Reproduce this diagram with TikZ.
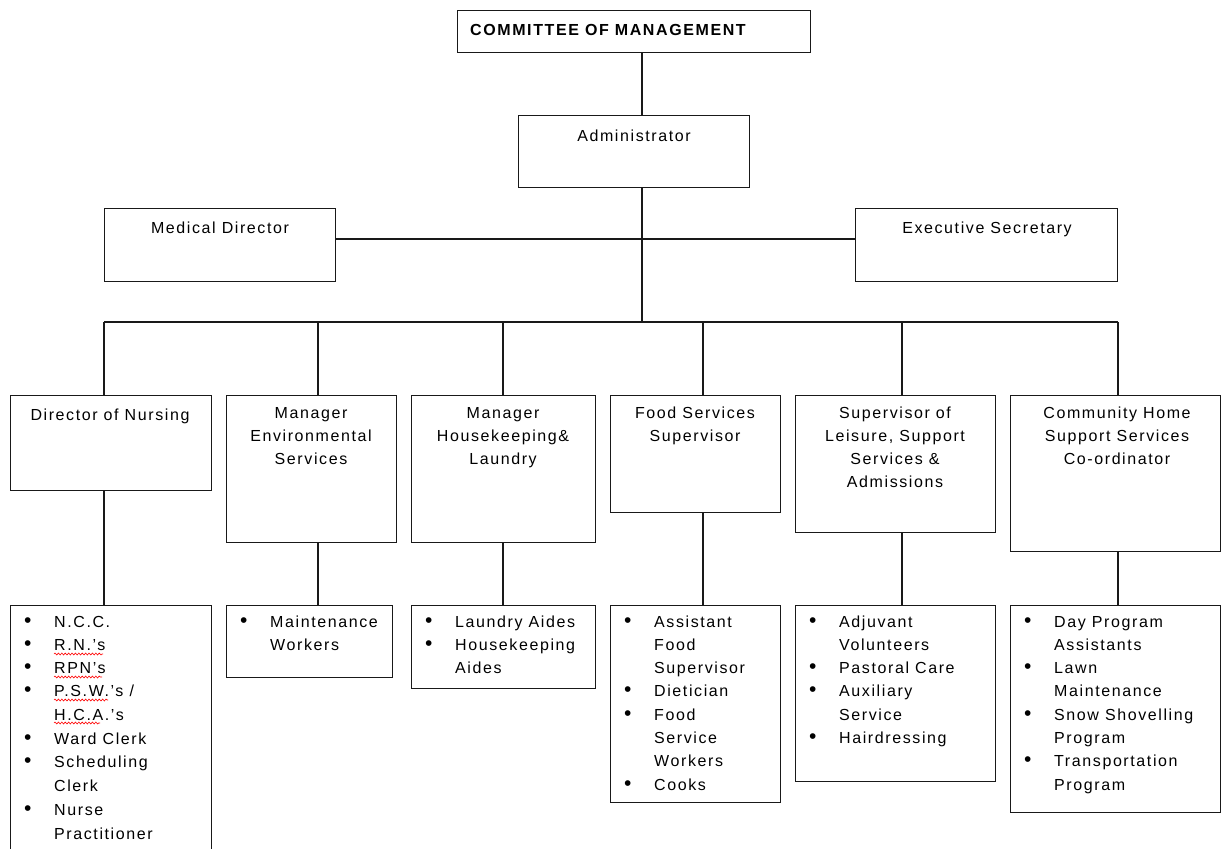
\documentclass[tikz,border=0pt]{standalone}
\usepackage{fontspec}
\setmainfont{Liberation Sans}[LetterSpace=10]
\usetikzlibrary{decorations.pathmorphing}
\newcommand\blt{\makebox[30pt][l]{{\fontsize{21}{23.3}\selectfont\textbullet}}}
\newcommand\cnt{\hspace*{30pt}}
\begin{document}
\begin{tikzpicture}[x=1pt,y=-1pt,
  bx/.style={draw=black!90, line width=1.4pt, rectangle, inner sep=0pt, anchor=north west},
  ln/.style={draw=black!90, line width=1.4pt},
  tx/.style={inner sep=0pt, anchor=base, font=\fontsize{16}{23.3}\selectfont},
  lst/.style={inner sep=0pt, anchor=base west, font=\fontsize{16}{23.3}\selectfont},
  squig/.style={draw=red, line width=0.6pt, decorate, decoration={snake, amplitude=1pt, segment length=3.4pt}}]
\useasboundingbox (0,0) rectangle (1222,848);
\clip (0,0) rectangle (1222,848);
% boxes
\node[bx, minimum width=353pt, minimum height=42pt] (com) at (457,10) {};
\node[bx, minimum width=231pt, minimum height=72pt] (adm) at (518,115) {};
\node[bx, minimum width=231pt, minimum height=73pt] (med) at (104,208) {};
\node[bx, minimum width=262pt, minimum height=73pt] (exe) at (855,208) {};
\node[bx, minimum width=201pt, minimum height=95pt] (dir) at (10,395) {};
\node[bx, minimum width=170pt, minimum height=147pt] (env) at (226,395) {};
\node[bx, minimum width=184pt, minimum height=147pt] (hk) at (411,395) {};
\node[bx, minimum width=170pt, minimum height=117pt] (food) at (610,395) {};
\node[bx, minimum width=200pt, minimum height=137pt] (sup) at (795,395) {};
\node[bx, minimum width=210pt, minimum height=156pt] (chs) at (1010,395) {};
\node[bx, minimum width=201pt, minimum height=270pt] (l1) at (10,605) {};
\node[bx, minimum width=166pt, minimum height=72pt] (l2) at (226,605) {};
\node[bx, minimum width=184pt, minimum height=83pt] (l3) at (411,605) {};
\node[bx, minimum width=170pt, minimum height=197pt] (l4) at (610,605) {};
\node[bx, minimum width=200pt, minimum height=176pt] (l5) at (795,605) {};
\node[bx, minimum width=210pt, minimum height=207pt] (l6) at (1010,605) {};
% connector coordinates
\coordinate (tk) at (642,322);
\coordinate (h1) at (0,239);
\coordinate (barL) at (104,322);
\coordinate (barR) at (1118,322);
\coordinate (d1) at (104,322);
\coordinate (d2) at (318,322);
\coordinate (d3) at (503,322);
\coordinate (d4) at (703,322);
\coordinate (d5) at (902,322);
\coordinate (d6) at (1118,322);
% connectors
\draw[ln] (com.south -| tk) -- (adm.north -| tk);
\draw[ln] (adm.south -| tk) -- (tk);
\draw[ln] (med.east |- h1) -- (exe.west |- h1);
\draw[ln] (barL) -- (barR);
\draw[ln] (d1) -- (dir.north -| d1);
\draw[ln] (d2) -- (env.north -| d2);
\draw[ln] (d3) -- (hk.north -| d3);
\draw[ln] (d4) -- (food.north -| d4);
\draw[ln] (d5) -- (sup.north -| d5);
\draw[ln] (d6) -- (chs.north -| d6);
\draw[ln] (dir.south -| d1) -- (l1.north -| d1);
\draw[ln] (env.south -| d2) -- (l2.north -| d2);
\draw[ln] (hk.south -| d3) -- (l3.north -| d3);
\draw[ln] (food.south -| d4) -- (l4.north -| d4);
\draw[ln] (sup.south -| d5) -- (l5.north -| d5);
\draw[ln] (chs.south -| d6) -- (l6.north -| d6);
% titles
\node[tx, anchor=base west, font=\fontsize{16}{23.3}\selectfont\bfseries] (comt) at (470,36) {COMMITTEE OF MANAGEMENT};
\node[tx] (admt) at (634,141) {Administrator};
\node[tx] (medt) at (220,233) {Medical Director};
\node[tx] (exet) at (987,233) {Executive Secretary};
\node[tx] (dirt) at (110,420) {Director of Nursing};
\node[tx] (envt) at (311,418) {\parbox[t]{165pt}{\centering Manager\\Environmental\\Services}};
\node[tx] (hkt) at (503,418) {\parbox[t]{180pt}{\centering Manager\\Housekeeping\&\\Laundry}};
\node[tx] (foodt) at (695,418) {\parbox[t]{165pt}{\centering Food Services\\Supervisor}};
\node[tx] (supt) at (895,418) {\parbox[t]{195pt}{\centering Supervisor of\\Leisure, Support\\Services \&\\Admissions}};
\node[tx] (chst) at (1117,418) {\parbox[t]{205pt}{\centering Community Home\\Support Services\\Co-ordinator}};
% lists
\node[lst] (l1t) at (24,627) {\parbox[t]{190pt}{\raggedright
 \blt N.C.C.\\ \blt R.N.'s\\ \blt RPN's\\ \blt P.S.W.'s /\\ \cnt H.C.A.'s\\[1pt] \blt Ward Clerk\\ \blt Scheduling\\ \cnt Clerk\\[1.5pt] \blt Nurse\\ \cnt Practitioner}};
\node[lst] (l2t) at (240,627) {\parbox[t]{160pt}{\raggedright
 \blt Maintenance\\ \cnt Workers}};
\node[lst] (l3t) at (425,627) {\parbox[t]{175pt}{\raggedright
 \blt Laundry Aides\\ \blt Housekeeping\\ \cnt Aides}};
\node[lst] (l4t) at (624,627) {\parbox[t]{160pt}{\raggedright
 \blt Assistant\\ \cnt Food\\ \cnt Supervisor\\ \blt Dietician\\ \blt Food\\ \cnt Service\\ \cnt Workers\\ \blt Cooks}};
\node[lst] (l5t) at (809,627) {\parbox[t]{190pt}{\raggedright
 \blt Adjuvant\\ \cnt Volunteers\\ \blt Pastoral Care\\ \blt Auxiliary\\ \cnt Service\\ \blt Hairdressing}};
\node[lst] (l6t) at (1024,627) {\parbox[t]{200pt}{\raggedright
 \blt Day Program\\ \cnt Assistants\\ \blt Lawn\\ \cnt Maintenance\\ \blt Snow Shovelling\\ \cnt Program\\ \blt Transportation\\ \cnt Program}};
% spell-check underlines
\draw[squig] (54,654) -- (103,654);
\draw[squig] (54,677) -- (102,677);
\draw[squig] (54,700) -- (108,700);
\draw[squig] (54,723) -- (100,723);
\end{tikzpicture}
\end{document}
